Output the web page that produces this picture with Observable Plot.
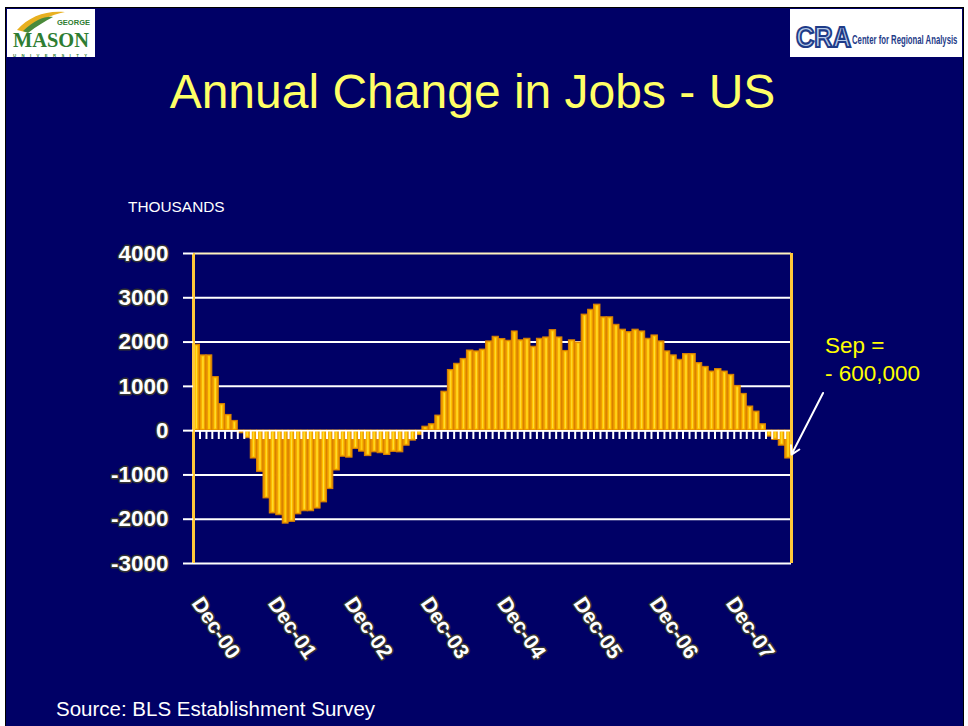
<!DOCTYPE html>
<html><head><meta charset="utf-8">
<script src="https://cdn.jsdelivr.net/npm/d3@7"></script>
<script src="https://cdn.jsdelivr.net/npm/@observablehq/plot@0.6"></script>
<style>
html,body{margin:0;padding:0;background:#fff;}
#page{position:relative;width:968px;height:726px;overflow:hidden;font-family:Arial,"Liberation Sans",sans-serif;background:#fff;}
#slide{position:absolute;left:5px;top:7px;width:957px;height:730px;background:#000066;border:1px solid #000;}
#logoL{position:absolute;left:7px;top:9px;width:88px;height:48px;background:#fff;}
#logoR{position:absolute;left:790px;top:9px;width:172px;height:48px;background:#fff;}
#title{position:absolute;left:0;width:945px;top:68px;text-align:center;font-size:48px;line-height:48px;color:#FFFF66;white-space:nowrap;}
#units{position:absolute;left:128px;top:199px;font-size:15.4px;line-height:15px;color:#fff;}
#note{position:absolute;left:825px;top:332px;font-size:22.5px;line-height:28px;color:#FFFF00;white-space:nowrap;}
#source{position:absolute;left:56px;top:699px;font-size:20.5px;line-height:20px;color:#fff;white-space:nowrap;}
#chart{position:absolute;left:0;top:230px;}
</style></head>
<body>
<div id="page">
  <div id="slide"></div>
  <div id="logoL">
    <svg width="88" height="48" viewBox="0 0 88 48">
      <path d="M10 21 C 22 7, 40 1, 58 3 C 44 6, 30 12, 18 23 Z" fill="#E8B020"/>
      <path d="M16 22 C 28 11, 38 7, 46 8 C 38 12, 30 17, 21 24 Z" fill="#4A8A3A"/>
      <text x="50" y="16" font-family="Liberation Sans, Arial" font-weight="bold" font-size="6.5" fill="#2E7D32" textLength="33" lengthAdjust="spacingAndGlyphs">GEORGE</text>
      <text x="6" y="38" font-family="Liberation Serif, DejaVu Serif, serif" font-weight="bold" font-size="21" fill="#2E7D32" textLength="76" lengthAdjust="spacingAndGlyphs">MASON</text>
      <text x="6" y="47.5" font-family="Liberation Sans, Arial" font-weight="bold" font-size="4.3" fill="#2E7D32" textLength="74" lengthAdjust="spacing">UNIVERSITY</text>
    </svg>
  </div>
  <div id="logoR">
    <svg width="172" height="48" viewBox="0 0 172 48">
      <text x="6" y="38" font-family="Liberation Sans, Arial" font-weight="bold" font-size="30" fill="#B9CDEA" stroke="#1F3C88" stroke-width="2.2" textLength="55" lengthAdjust="spacingAndGlyphs" paint-order="fill">CRA</text>
      <g transform="translate(62,35) scale(0.62,1)">
        <text x="0" y="0" font-family="Liberation Sans, Arial" font-weight="bold" font-size="12.5" fill="#1F3C88">Center for Regional Analysis</text>
      </g>
    </svg>
  </div>
  <div id="title">Annual Change in Jobs - US</div>
  <div id="units">THOUSANDS</div>
  <div id="chart"></div>
  <div id="note">Sep =<br>- 600,000</div>
  <div id="source">Source: BLS Establishment Survey</div>
</div>
<script>
// Monthly annual change in US jobs (thousands), Dec-2000 .. Sep-2008
const firstMonth = "2000-12";
const jobChange = [
  1940, 1700, 1700, 1210, 600, 355, 220, -60, -170, -630,
  -930, -1530, -1870, -1910, -2100, -2060, -1890, -1820, -1820, -1760,
  -1620, -1320, -900, -590, -610, -415, -475, -575, -490, -510,
  -550, -480, -490, -340, -225, -100, 90, 145, 340, 880,
  1370, 1510, 1620, 1810, 1790, 1830, 2015, 2120, 2070, 2030,
  2240, 2040, 2075, 1895, 2075, 2105, 2270, 2105, 1800, 2040,
  1990, 2620, 2730, 2845, 2560, 2560, 2390, 2280, 2225, 2280,
  2240, 2075, 2150, 2015, 1790, 1700, 1600, 1730, 1730, 1525,
  1440, 1335, 1390, 1335, 1260, 1010, 830, 545, 430, 145,
  -135, -210, -340, -630
];
const xTickLabels = ["Dec-00","Dec-01","Dec-02","Dec-03","Dec-04","Dec-05","Dec-06","Dec-07"];
const yTicks = [4000, 3000, 2000, 1000, 0, -1000, -2000, -3000];
const annotationValue = -600;

const start = d3.utcParse("%Y-%m")(firstMonth);
const data = jobChange.map((v, i) => ({
  date: d3.utcMonth.offset(start, i),
  end: d3.utcMonth.offset(start, i + 1),
  value: v
}));
const domainEnd = data[data.length - 1].end;
const parseTick = d3.utcParse("%b-%y");
const xTicks = xTickLabels.map(s => d3.utcDay.offset(parseTick(s), 15));
const last = data[data.length - 1];

const chart = Plot.plot({
  width: 968,
  height: 443,
  marginLeft: 193,
  marginRight: 177,
  marginTop: 23,
  marginBottom: 110,
  style: {background: "transparent", color: "white", fontFamily: "Arial, 'Liberation Sans', sans-serif", overflow: "visible"},
  x: {type: "utc", domain: [start, domainEnd]},
  y: {domain: [-3000, 4000]},
  marks: [
    Plot.ruleY(yTicks, {stroke: d => d === 4000 ? "#FFF2C0" : "white", strokeWidth: 2}),
    Plot.rectY(data, {x1: "date", x2: "end", y: "value", fill: "#EE9A00", stroke: "#D88000", strokeWidth: 1}),
    Plot.rectY(data, {x1: "date", x2: "end", y: "value", fill: "#FFC800", insetLeft: 2, insetRight: 1.8, insetTop: 1, insetBottom: 1}),
    Plot.rectY(data, {x1: "date", x2: "end", y: "value", fill: "#FFE040", insetLeft: 3, insetRight: 2.6, insetTop: 2, insetBottom: 2}),
    Plot.ruleY([0], {stroke: "white", strokeWidth: 1.5}),
    Plot.ruleX(data, {x: "date", y1: 0, y2: -200, stroke: "white", strokeWidth: 2}),
    Plot.ruleX([start, domainEnd], {stroke: "#FFC83A", strokeWidth: 3}),
    Plot.axisY({
      ticks: yTicks, tickSize: 10, tickPadding: 15, label: null,
      tickFormat: d => `${d}`,
      stroke: "white", strokeWidth: 2, fill: "white",
      fontSize: 22.5, fontWeight: "bold",
      textStroke: "#333", textStrokeWidth: 3
    }),
    Plot.axisX({
      ticks: xTicks, tickSize: 0, tickPadding: 36, label: null,
      tickFormat: d3.utcFormat("%b-%y"), tickRotate: 56,
      fill: "white", fontSize: 21, fontWeight: "bold",
      textStroke: "#333", textStrokeWidth: 3
    }),
    Plot.arrow([last], {
      x1: d => d3.utcMonth.offset(d.end, 5), y1: 850,
      x2: "end", y2: annotationValue + 60,
      stroke: "white", strokeWidth: 2, headLength: 7, bend: 0
    })
  ]
});
document.getElementById("chart").appendChild(chart);
</script>
</body></html>
